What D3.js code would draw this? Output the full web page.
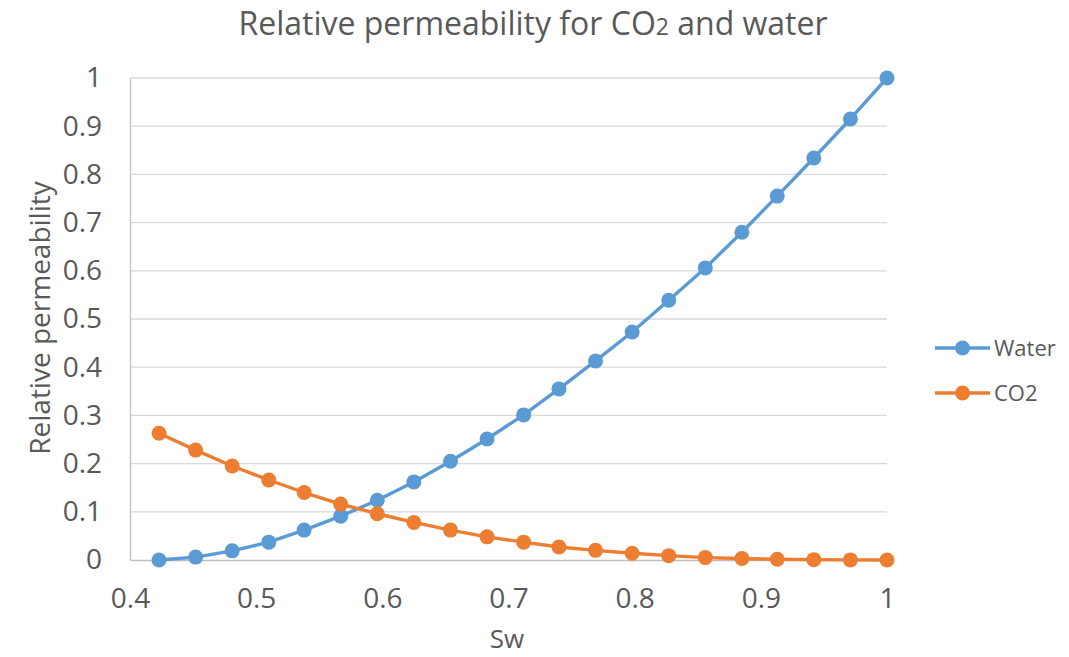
<!DOCTYPE html>
<html>
<head>
<meta charset="utf-8">
<script src="https://cdn.jsdelivr.net/npm/d3@7"></script>
<style>
  body { margin: 0; background: #fff; }
  text { font-family: "Open Sans", "Liberation Sans", sans-serif; fill: #595959; }
</style>
</head>
<body>
<div id="chart"></div>
<script>
const sw = [0.423, 0.452, 0.481, 0.510, 0.538, 0.567, 0.596, 0.625, 0.654, 0.683, 0.712,
            0.740, 0.769, 0.798, 0.827, 0.856, 0.885, 0.913, 0.942, 0.971, 1.0]
const water = [0, 0.006, 0.019, 0.037, 0.062, 0.091, 0.124, 0.162, 0.205, 0.251, 0.301,
               0.355, 0.413, 0.473, 0.539, 0.606, 0.680, 0.755, 0.834, 0.915, 1.0]
const co2 = [0.263, 0.228, 0.195, 0.166, 0.140, 0.116, 0.096, 0.078, 0.062, 0.048, 0.037,
             0.027, 0.020, 0.014, 0.009, 0.005, 0.003, 0.0015, 0.0007, 0.0002, 0]
const xTicks = [0.4, 0.5, 0.6, 0.7, 0.8, 0.9, 1]
const yTicks = [0, 0.1, 0.2, 0.3, 0.4, 0.5, 0.6, 0.7, 0.8, 0.9, 1]
const series = [
  { name: "Water", values: water, color: "#5B9BD5" },
  { name: "CO2", values: co2, color: "#ED7D31" }
]

const width = 1069, height = 657
const plotLeft = 130, plotRight = 887, plotTop = 78, plotBottom = 560

const svg = d3.select("#chart").append("svg")
  .attr("width", width).attr("height", height)

const x = d3.scaleLinear().domain([0.4, 1]).range([plotLeft, plotRight])
const y = d3.scaleLinear().domain([0, 1]).range([plotBottom, plotTop])

// grid
svg.append("g")
  .selectAll("line")
  .data(yTicks.slice(1))
  .join("line")
  .attr("x1", plotLeft).attr("x2", plotRight)
  .attr("y1", d => y(d)).attr("y2", d => y(d))
  .attr("stroke", "#d9d9d9").attr("stroke-width", 1.3)

// axes
const xAxis = svg.append("g")
  .attr("transform", `translate(0,${plotBottom})`)
  .call(d3.axisBottom(x).tickValues(xTicks).tickSize(0).tickPadding(28).tickFormat(d => String(d)))
xAxis.select(".domain").attr("stroke", "#bfbfbf").attr("stroke-width", 1.3)
xAxis.selectAll("text").style("font-size", "28px").attr("fill", "#595959")

const yAxis = svg.append("g")
  .attr("transform", `translate(${plotLeft},0)`)
  .call(d3.axisLeft(y).tickValues(yTicks).tickSize(0).tickPadding(28).tickFormat(d => String(d)))
yAxis.select(".domain").attr("stroke", "#bfbfbf").attr("stroke-width", 1.3)
yAxis.selectAll("text").style("font-size", "28px").attr("fill", "#595959")

// lines and markers
const line = d3.line().x((d, i) => x(sw[i])).y(d => y(d))

series.forEach(s => {
  svg.append("path")
    .datum(s.values)
    .attr("d", line)
    .attr("fill", "none")
    .attr("stroke", s.color)
    .attr("stroke-width", 3.4)
    .attr("stroke-linejoin", "round")
  svg.append("g")
    .selectAll("circle")
    .data(s.values)
    .join("circle")
    .attr("cx", (d, i) => x(sw[i]))
    .attr("cy", d => y(d))
    .attr("r", 7.5)
    .attr("fill", s.color)
})

// title
const title = svg.append("text")
  .attr("x", 533).attr("y", 35)
  .attr("text-anchor", "middle")
  .style("font-size", "32px")
title.append("tspan").text("Relative permeability for CO")
title.append("tspan").style("font-size", "23px").text("2")
title.append("tspan").text(" and water")

// axis titles
svg.append("text")
  .attr("x", 507).attr("y", 648)
  .attr("text-anchor", "middle")
  .style("font-size", "26px")
  .text("Sw")

svg.append("text")
  .attr("transform", "translate(50,318) rotate(-90)")
  .attr("text-anchor", "middle")
  .style("font-size", "28px")
  .text("Relative permeability")

// legend
const legend = svg.append("g")
  .selectAll("g")
  .data(series)
  .join("g")
  .attr("transform", (d, i) => `translate(935,${348 + i * 45})`)
legend.append("line")
  .attr("x1", 0).attr("x2", 55)
  .attr("stroke", d => d.color).attr("stroke-width", 3.4)
legend.append("circle")
  .attr("cx", 27.5).attr("r", 7.5)
  .attr("fill", d => d.color)
legend.append("text")
  .attr("x", 59).attr("dy", "0.35em")
  .style("font-size", "22px")
  .text(d => d.name)
</script>
</body>
</html>
